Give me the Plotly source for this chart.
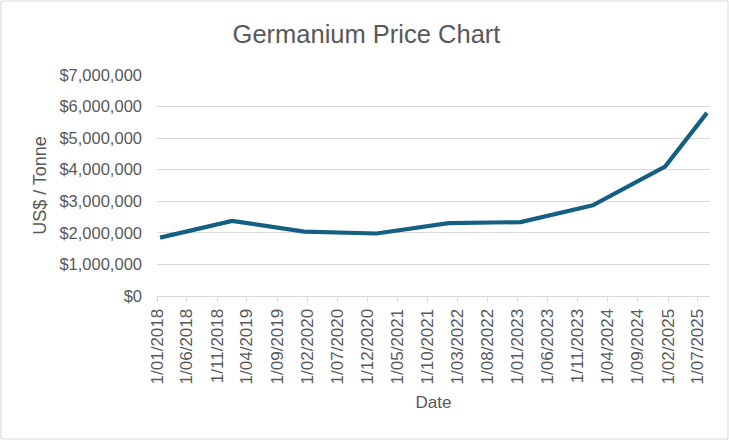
import plotly.graph_objects as go

# ---- data ----
dates = ["2018-01-01", "2019-01-01", "2020-01-01", "2021-01-01", "2022-01-01",
         "2023-01-01", "2024-01-01", "2025-01-01", "2025-08-01"]
prices = [1850000, 2380000, 2040000, 1980000, 2310000,
          2340000, 2870000, 4100000, 5800000]

tick_dates = ["2018-01-01", "2018-06-01", "2018-11-01", "2019-04-01", "2019-09-01",
              "2020-02-01", "2020-07-01", "2020-12-01", "2021-05-01", "2021-10-01",
              "2022-03-01", "2022-08-01", "2023-01-01", "2023-06-01", "2023-11-01",
              "2024-04-01", "2024-09-01", "2025-02-01", "2025-07-01"]
tick_labels = ["1/01/2018", "1/06/2018", "1/11/2018", "1/04/2019", "1/09/2019",
               "1/02/2020", "1/07/2020", "1/12/2020", "1/05/2021", "1/10/2021",
               "1/03/2022", "1/08/2022", "1/01/2023", "1/06/2023", "1/11/2023",
               "1/04/2024", "1/09/2024", "1/02/2025", "1/07/2025"]

title_text = "Germanium Price Chart"
x_title = "Date"
y_title = "US$ / Tonne"

FONT = "Liberation Sans, Arial, sans-serif"
TEXT = "#595959"
GRID = "#d9d9d9"
LINE = "#156082"

fig = go.Figure()
fig.add_trace(go.Scatter(
    x=dates, y=prices, mode="lines",
    xperiod="M1", xperiodalignment="middle",
    line=dict(color=LINE, width=4.2),
    showlegend=False,
))

fig.update_layout(
    width=729, height=441,
    margin=dict(l=157, r=19, t=75, b=145, autoexpand=False),
    paper_bgcolor="white", plot_bgcolor="white",
    font=dict(family=FONT, color=TEXT),
    title=dict(text=title_text, x=366.5 / 729, xanchor="center", xref="container",
               y=1 - 34 / 441, yanchor="middle", yref="container",
               font=dict(family=FONT, size=25.5, color=TEXT)),
)

fig.update_xaxes(
    type="date",
    range=["2018-01-01", "2025-09-01"],
    tickmode="array", tickvals=tick_dates, ticktext=tick_labels,
    tickangle=-90,
    tickfont=dict(family=FONT, size=17, color=TEXT),
    ticks="outside", ticklen=5, tickcolor=GRID, tickwidth=1,
    showline=True, linecolor=GRID, linewidth=1,
    showgrid=False, zeroline=False,
    title=dict(text=x_title, font=dict(family=FONT, size=17, color=TEXT), standoff=12),
)

fig.update_yaxes(
    range=[0, 7000000], dtick=1000000, tick0=0,
    tickformat="$,.0f",
    tickfont=dict(family=FONT, size=16.5, color=TEXT),
    ticks="", ticklabelstandoff=14,
    showgrid=True, gridcolor=GRID, gridwidth=1,
    showline=False, zeroline=False,
    title=dict(text=y_title, font=dict(family=FONT, size=18, color=TEXT), standoff=8),
)

# light chart-area border
fig.add_shape(type="rect", xref="paper", yref="paper",
              x0=(1 - 157) / 553, x1=(728 - 157) / 553,
              y0=(296 - 439) / 221, y1=(296 - 1) / 221,
              line=dict(color=GRID, width=1), fillcolor="rgba(0,0,0,0)", layer="below")

fig.write_html(
    "out.html",
    config={"displayModeBar": False},
    post_script="document.body.style.margin='0';document.body.style.overflow='hidden';",
)
